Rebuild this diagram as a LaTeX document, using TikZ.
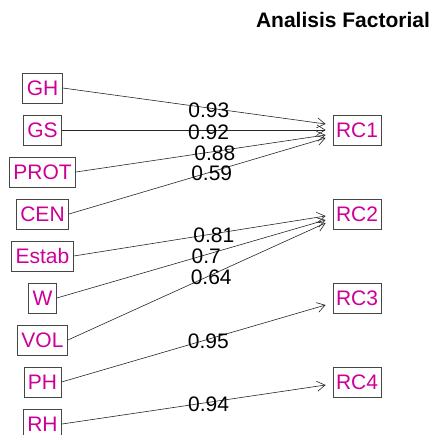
\documentclass[tikz,border=0pt]{standalone}
\usepackage{fontspec}
\setmainfont{Liberation Sans}
\usetikzlibrary{arrows.meta}
\definecolor{varpink}{RGB}{204,0,153}
\definecolor{boxgray}{RGB}{70,70,70}
\tikzstyle{varbox}=[draw,color=boxgray,line width=0.8pt,text=varpink,font=\fontsize{21}{21}\selectfont,
    minimum height=30pt,inner xsep=4pt,inner ysep=7.5pt,text height=15pt,text depth=0pt]
\tikzstyle{facbox}=[varbox,inner xsep=3pt]
\tikzstyle{load}=[->,color=black!85,line width=0.6pt]
\tikzstyle{wt}=[pos=0.556,yshift=-2pt,inner sep=0pt,text=black,font=\fontsize{21}{21}\selectfont]

\begin{document}
\begin{tikzpicture}[x=1pt,y=1pt,>={Straight Barb[length=8pt,width=10pt]}]
    \useasboundingbox (0,0) rectangle (435,-435);
    \node (title) at (343,-20) {\fontsize{21}{21}\selectfont\bfseries Analisis Factorial};

    \node [varbox] (GH) at (42.5,-88) {GH};
    \node [varbox] (GS) at (42.5,-130) {GS};
    \node [varbox] (PROT) at (42.5,-172) {PROT};
    \node [varbox] (CEN) at (42.5,-214) {CEN};
    \node [varbox] (Estab) at (42.5,-256) {Estab};
    \node [varbox] (W) at (42.5,-298) {W};
    \node [varbox] (VOL) at (42.5,-340) {VOL};
    \node [varbox] (PH) at (42.5,-382) {PH};
    \node [varbox] (RH) at (42.5,-424) {RH};

    \node [facbox] (RC1) at (357,-130) {RC1};
    \node [facbox] (RC2) at (357,-214) {RC2};
    \node [facbox] (RC3) at (357,-298) {RC3};
    \node [facbox] (RC4) at (357,-382) {RC4};

    \draw [load] (GH.east) -- node [wt] {0.93} ([xshift=-7pt,yshift=6pt]RC1.west);
    \draw [load] (GS.east) -- node [wt] {0.92} ([xshift=-7pt]RC1.west);
    \draw [load] (PROT.east) -- node [wt] {0.88} ([xshift=-7pt,yshift=-5pt]RC1.west);
    \draw [load] (CEN.east) -- node [wt] {0.59} ([xshift=-7pt,yshift=-8pt]RC1.west);
    \draw [load] (Estab.east) -- node [wt] {0.81} ([xshift=-7pt,yshift=-2pt]RC2.west);
    \draw [load] (W.east) -- node [wt] {0.7} ([xshift=-7pt,yshift=-6pt]RC2.west);
    \draw [load] (VOL.east) -- node [wt] {0.64} ([xshift=-7pt,yshift=-9pt]RC2.west);
    \draw [load] (PH.east) -- node [wt] {0.95} ([xshift=-7pt,yshift=-7pt]RC3.west);
    \draw [load] (RH.east) -- node [wt] {0.94} ([xshift=-7pt,yshift=-3pt]RC4.west);
\end{tikzpicture}
\end{document}
